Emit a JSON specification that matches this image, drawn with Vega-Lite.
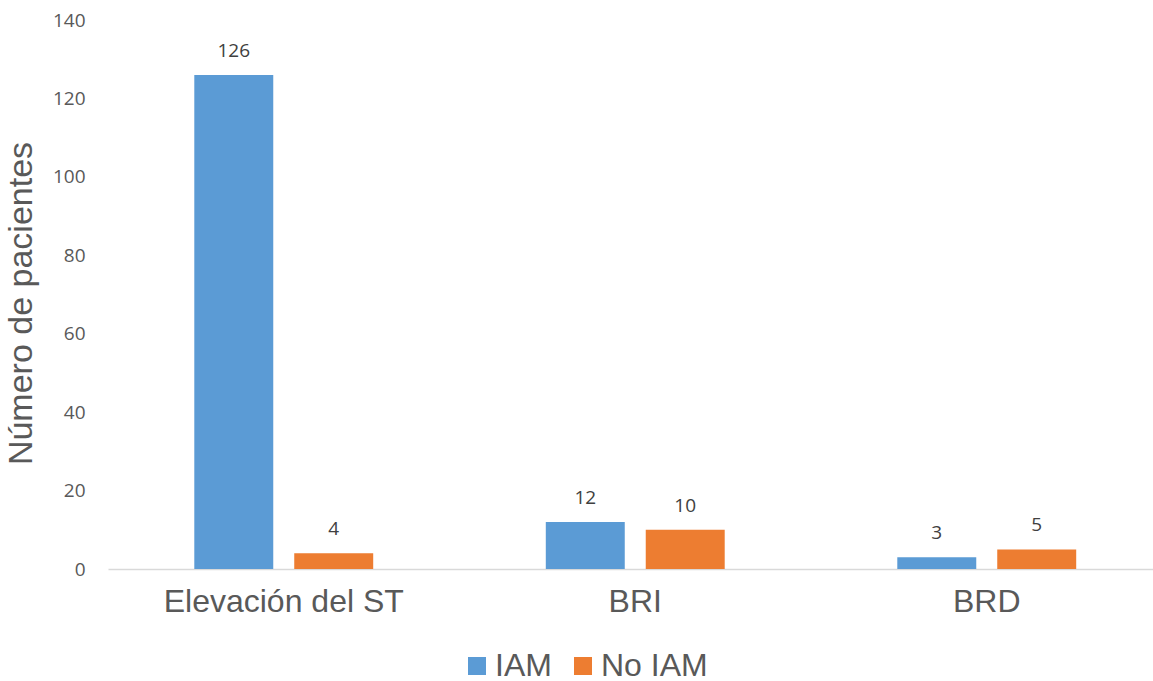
{
  "$schema": "https://vega.github.io/schema/vega-lite/v6.json",
  "autosize": {"type": "none"},
  "width": 1045,
  "height": 549,
  "padding": {"left": 108, "top": 20, "right": 0, "bottom": 112},
  "background": "white",
  "config": {"view": {"stroke": null}},
  "data": {
    "values": [
      {"categoria": "Elevación del ST", "grupo": "IAM", "pacientes": 126},
      {"categoria": "Elevación del ST", "grupo": "No IAM", "pacientes": 4},
      {"categoria": "BRI", "grupo": "IAM", "pacientes": 12},
      {"categoria": "BRI", "grupo": "No IAM", "pacientes": 10},
      {"categoria": "BRD", "grupo": "IAM", "pacientes": 3},
      {"categoria": "BRD", "grupo": "No IAM", "pacientes": 5}
    ]
  },
  "encoding": {
    "x": {
      "field": "categoria",
      "type": "nominal",
      "sort": ["Elevación del ST", "BRI", "BRD"],
      "scale": {"paddingInner": 0.491, "paddingOuter": 0.2455, "range": [0, 1054.5]},
      "axis": {
        "title": null,
        "labelAngle": 0,
        "labelLimit": 0,
        "labelFont": "Liberation Sans",
        "labelFontSize": 32,
        "labelColor": "#595959",
        "labelPadding": 17,
        "ticks": false,
        "domainColor": "#d9d9d9",
        "domainWidth": 1.5
      }
    },
    "xOffset": {
      "field": "grupo",
      "type": "nominal",
      "sort": ["IAM", "No IAM"],
      "scale": {"paddingInner": 0.21, "paddingOuter": 0}
    },
    "y": {
      "field": "pacientes",
      "type": "quantitative",
      "scale": {"domain": [0, 140], "nice": false},
      "axis": {
        "values": [0, 20, 40, 60, 80, 100, 120, 140],
        "title": "Número de pacientes",
        "titleFont": "Liberation Sans",
        "titleFontSize": 34,
        "titleFontWeight": "normal",
        "titleColor": "#595959",
        "titlePadding": 14,
        "titleY": 283,
        "labelFont": "Open Sans",
        "labelFontSize": 19,
        "labelColor": "#595959",
        "labelPadding": 23,
        "ticks": false,
        "domain": false,
        "grid": false
      }
    }
  },
  "layer": [
    {
      "mark": {"type": "bar"},
      "encoding": {
        "color": {
          "field": "grupo",
          "type": "nominal",
          "sort": ["IAM", "No IAM"],
          "scale": {"domain": ["IAM", "No IAM"], "range": ["#5B9BD5", "#ED7D31"]},
          "legend": {
            "title": null,
            "orient": "none",
            "legendX": 353,
            "legendY": 630,
            "direction": "horizontal",
            "symbolType": "square",
            "symbolSize": 324,
            "symbolStrokeWidth": 0,
            "labelFont": "Liberation Sans",
            "labelFontSize": 32,
            "labelColor": "#595959",
            "labelOffset": 2,
            "columnPadding": 15,
            "padding": 0
          }
        }
      }
    },
    {
      "mark": {"type": "text", "baseline": "alphabetic", "dy": -18, "font": "Open Sans", "fontSize": 19, "color": "#404040"},
      "encoding": {
        "text": {"field": "pacientes", "type": "quantitative"}
      }
    }
  ]
}
